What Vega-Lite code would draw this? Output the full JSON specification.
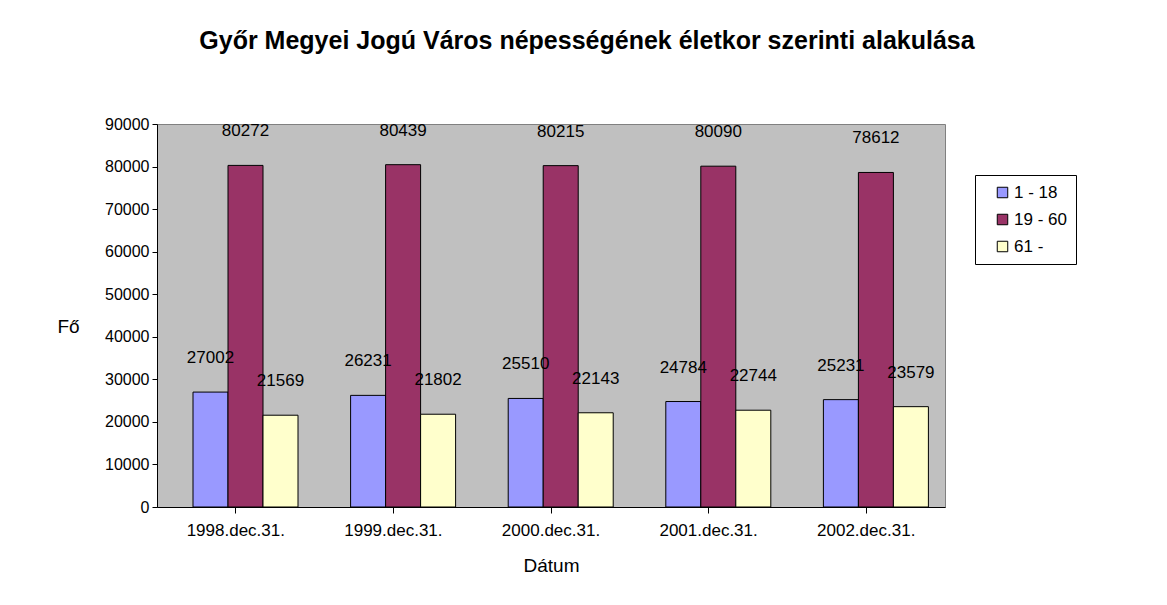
{
  "$schema": "https://vega.github.io/schema/vega-lite/v6.json",
  "autosize": {"type": "none"},
  "width": 788,
  "height": 383,
  "padding": {"left": 157, "top": 124, "right": 222, "bottom": 98},
  "background": "white",
  "title": {
    "text": "Győr Megyei Jogú Város népességének életkor szerinti alakulása",
    "font": "Liberation Sans",
    "fontSize": 25,
    "fontWeight": "bold",
    "color": "black",
    "anchor": "middle",
    "dx": 36,
    "offset": 62
  },
  "data": {
    "values": [
      {"date": "1998.dec.31.", "group": "1 - 18", "value": 27002},
      {"date": "1998.dec.31.", "group": "19 - 60", "value": 80272},
      {"date": "1998.dec.31.", "group": "61 -", "value": 21569},
      {"date": "1999.dec.31.", "group": "1 - 18", "value": 26231},
      {"date": "1999.dec.31.", "group": "19 - 60", "value": 80439},
      {"date": "1999.dec.31.", "group": "61 -", "value": 21802},
      {"date": "2000.dec.31.", "group": "1 - 18", "value": 25510},
      {"date": "2000.dec.31.", "group": "19 - 60", "value": 80215},
      {"date": "2000.dec.31.", "group": "61 -", "value": 22143},
      {"date": "2001.dec.31.", "group": "1 - 18", "value": 24784},
      {"date": "2001.dec.31.", "group": "19 - 60", "value": 80090},
      {"date": "2001.dec.31.", "group": "61 -", "value": 22744},
      {"date": "2002.dec.31.", "group": "1 - 18", "value": 25231},
      {"date": "2002.dec.31.", "group": "19 - 60", "value": 78612},
      {"date": "2002.dec.31.", "group": "61 -", "value": 23579}
    ]
  },
  "encoding": {
    "x": {
      "field": "date",
      "type": "nominal",
      "scale": {"paddingInner": 0.33, "paddingOuter": 0.165},
      "axis": {
        "title": "Dátum",
        "labelAngle": 0,
        "labelFont": "Liberation Sans",
        "labelFontSize": 17,
        "labelColor": "black",
        "labelPadding": 9,
        "tickColor": "black",
        "tickSize": 6,
        "domainColor": "black",
        "titleFont": "Liberation Sans",
        "titleFontSize": 19,
        "titleFontWeight": "normal",
        "titleColor": "black",
        "titlePadding": 18
      }
    },
    "xOffset": {"field": "group", "type": "nominal", "scale": {"paddingInner": 0, "paddingOuter": 0, "range": [10, 115]}},
    "y": {
      "field": "value",
      "type": "quantitative",
      "scale": {"domain": [0, 90000], "nice": false},
      "axis": {
        "values": [0, 10000, 20000, 30000, 40000, 50000, 60000, 70000, 80000, 90000],
        "format": "d",
        "grid": false,
        "title": "Fő",
        "titleAngle": 0,
        "titleX": -89,
        "titleY": 202,
        "titleAlign": "center",
        "titleBaseline": "middle",
        "titleFont": "Liberation Sans",
        "titleFontSize": 19,
        "titleFontWeight": "normal",
        "titleColor": "black",
        "labelFont": "Liberation Sans",
        "labelFontSize": 16,
        "labelColor": "black",
        "labelPadding": 3,
        "tickColor": "black",
        "tickSize": 5,
        "domainColor": "black"
      }
    }
  },
  "layer": [
    {
      "mark": {"type": "bar", "stroke": "black", "strokeWidth": 1},
      "encoding": {
        "color": {
          "field": "group",
          "type": "nominal",
          "scale": {"domain": ["1 - 18", "19 - 60", "61 -"], "range": ["#9999FF", "#993366", "#FFFFCC"]},
          "legend": {
            "title": null,
            "orient": "none",
            "legendX": 818,
            "legendY": 51,
            "strokeColor": "black",
            "fillColor": "white",
            "padding": 9,
            "symbolType": "square",
            "symbolSize": 110,
            "symbolStrokeColor": "black",
            "symbolStrokeWidth": 1,
            "symbolOpacity": 1,
            "labelFont": "Liberation Sans",
            "labelFontSize": 17,
            "labelColor": "black",
            "rowPadding": 9,
            "labelLimit": 200,
            "labelOffset": 3,
            "symbolOffset": 10
          }
        }
      }
    },
    {
      "mark": {"type": "text", "font": "Liberation Sans", "fontSize": 17, "color": "black", "baseline": "bottom", "dy": -25},
      "encoding": {
        "text": {"field": "value", "type": "quantitative", "format": "d"}
      }
    }
  ],
  "config": {
    "view": {"fill": "#C0C0C0", "stroke": "#808080"}
  }
}
